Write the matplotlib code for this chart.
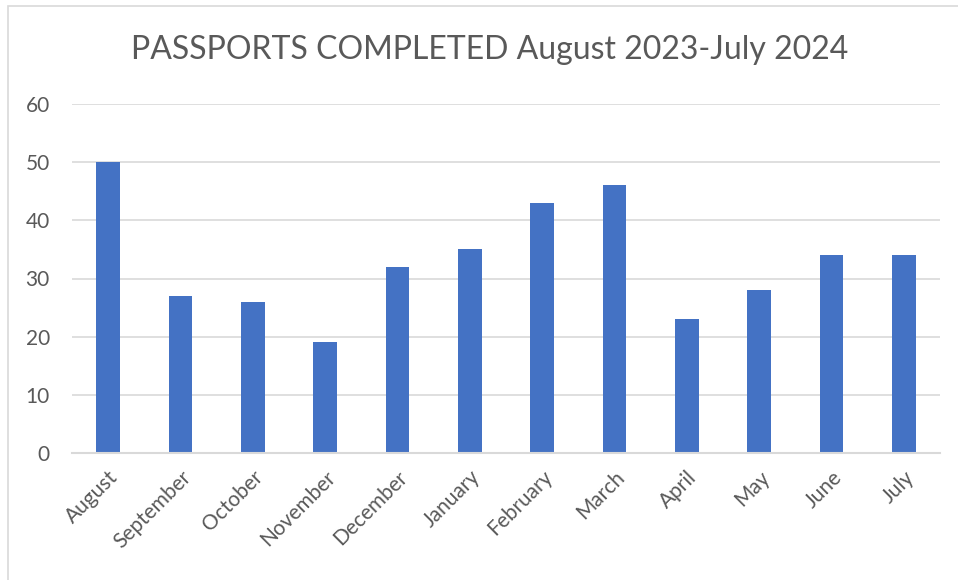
import numpy as np
import matplotlib.pyplot as plt
from matplotlib.patches import Rectangle

months = ['August', 'September', 'October', 'November', 'December', 'January',
          'February', 'March', 'April', 'May', 'June', 'July']
completed = [50, 27, 26, 19, 32, 35, 43, 46, 23, 28, 34, 34]
yticks = [0, 10, 20, 30, 40, 50, 60]

plt.rcParams['font.family'] = ['Lato', 'DejaVu Sans']

fig = plt.figure(figsize=(9.58, 5.8), dpi=100)
# chart border (Excel style)
fig.patches.append(Rectangle((8 / 958, -0.1), 1.0, 1 - 6 / 580 + 0.1,
                             transform=fig.transFigure, fill=False,
                             edgecolor='#d9d9d9', linewidth=1.2))

ax = fig.add_axes([72 / 958, 1 - 453 / 580, (940 - 72) / 958, (453 - 104) / 580])
x = np.arange(len(months))
ax.bar(x, completed, width=0.33, color='#4472c4', zorder=3)

ax.set_xlim(-0.5, len(months) - 0.5)
ax.set_ylim(0, 60)
ax.set_yticks(yticks)
ax.set_yticklabels([str(v) for v in yticks], fontsize=15, color='#595959')
ax.set_xticks(x)
ax.set_xticklabels(months, rotation=45, ha='right', rotation_mode='anchor',
                   fontsize=15, color='#595959')
ax.tick_params(axis='y', length=0, pad=16)
ax.tick_params(axis='x', length=0, pad=10)
ax.grid(axis='y', color='#d9d9d9', linewidth=1.2, zorder=0)
for s in ['top', 'right', 'left']:
    ax.spines[s].set_visible(False)
ax.spines['bottom'].set_color('#d9d9d9')
ax.spines['bottom'].set_linewidth(1.5)
ax.spines['bottom'].set_zorder(4)

fig.text(490 / 958, 1 - 50 / 580, 'PASSPORTS COMPLETED August 2023-July 2024',
         ha='center', va='center', fontsize=23, color='#595959')

fig.savefig('out.png', dpi=100)
